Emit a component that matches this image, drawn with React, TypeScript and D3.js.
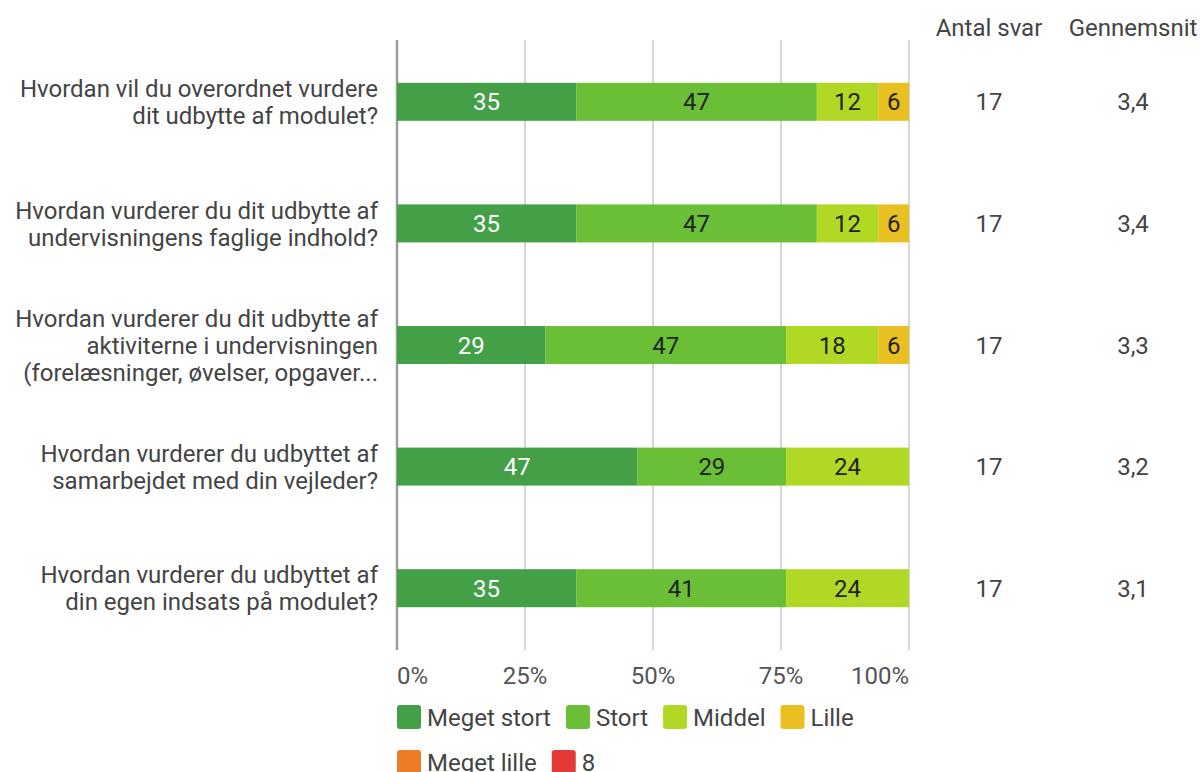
import React from 'react';
import * as d3 from 'd3';

const questions = [
  ['Hvordan vil du overordnet vurdere', 'dit udbytte af modulet?'],
  ['Hvordan vurderer du dit udbytte af', 'undervisningens faglige indhold?'],
  ['Hvordan vurderer du dit udbytte af', 'aktiviterne i undervisningen', '(forelæsninger, øvelser, opgaver...'],
  ['Hvordan vurderer du udbyttet af', 'samarbejdet med din vejleder?'],
  ['Hvordan vurderer du udbyttet af', 'din egen indsats på modulet?'],
];

const series = ['Meget stort', 'Stort', 'Middel', 'Lille', 'Meget lille', '8'];
const colors = ['#43a047', '#6abf36', '#b2d826', '#e9c022', '#ee7b25', '#e53935'];

// percent per answer, one row per question
const values = [
  [35, 47, 12, 6, 0, 0],
  [35, 47, 12, 6, 0, 0],
  [29, 47, 18, 6, 0, 0],
  [47, 29, 24, 0, 0, 0],
  [35, 41, 24, 0, 0, 0],
];

const antal = [17, 17, 17, 17, 17];
const snit = ['3,4', '3,4', '3,3', '3,2', '3,1'];
const ticks = [0, 25, 50, 75, 100];

const W = 1200;
const H = 772;
const FONT = 'Roboto, sans-serif';
const FS = 24;

function textWidth(s: string) {
  const c = document.createElement('canvas').getContext('2d')!;
  c.font = `${FS}px Roboto`;
  return c.measureText(s).width;
}

export default function App() {
  const x = d3.scaleLinear().domain([0, 100]).range([397, 909]);
  const y = d3.scaleBand<number>().domain(d3.range(questions.length)).range([41, 649]).paddingInner(0.6875).paddingOuter(0.34375);

  const rows = values.map(v => {
    const keyed: any = {};
    series.forEach((s, i) => (keyed[s] = v[i]));
    return keyed;
  });
  const stacked = d3.stack().keys(series)(rows);

  // legend layout, wraps like the original
  const legendRows: { label: string; color: string; x: number; row: number }[] = [];
  let lx = 397;
  let row = 0;
  series.forEach((s, i) => {
    const w = 24 + 6 + textWidth(s);
    if (lx + w > 870) {
      row++;
      lx = 397;
    }
    legendRows.push({ label: s, color: colors[i], x: lx, row });
    lx += w + 15;
  });

  return (
    <svg width={W} height={H} style={{ position: 'absolute', left: 0, top: 0 }} fontFamily={FONT} fontSize={FS}>
      <rect width={W} height={H} fill="#fff" />
      {ticks.map(t => (
        <line key={t} x1={x(t)} x2={x(t)} y1={40} y2={650} stroke="#c8c8c8" strokeWidth={1.5} />
      ))}
      <line x1={x(0)} x2={x(0)} y1={40} y2={650} stroke="#9e9e9e" strokeWidth={2.5} />

      {stacked.map((layer, si) =>
        layer.map((d, qi) => {
          const w = x(d[1]) - x(d[0]);
          if (w <= 0) return null;
          const yy = y(qi)!;
          return (
            <g key={`${si}-${qi}`}>
              <rect x={x(d[0])} y={yy} width={w} height={y.bandwidth()} fill={colors[si]} />
              <text
                x={(x(d[0]) + x(d[1])) / 2}
                y={yy + y.bandwidth() / 2}
                dy="0.36em"
                textAnchor="middle"
                fill={si === 0 ? '#fff' : '#222'}
              >
                {values[qi][si]}
              </text>
            </g>
          );
        })
      )}

      {questions.map((lines, qi) => {
        const cy = y(qi)! + y.bandwidth() / 2;
        const lh = 27;
        const start = cy - ((lines.length - 1) * lh) / 2;
        return (
          <text key={qi} textAnchor="end" fill="#444">
            {lines.map((l, li) => (
              <tspan key={li} x={378} y={start + li * lh} dy="0.36em">
                {l}
              </tspan>
            ))}
          </text>
        );
      })}

      <text x={989} y={27} dy="0.36em" textAnchor="middle" fill="#444">Antal svar</text>
      <text x={1133} y={27} dy="0.36em" textAnchor="middle" fill="#444">Gennemsnit</text>
      {antal.map((a, qi) => (
        <g key={qi} fill="#444">
          <text x={989} y={y(qi)! + y.bandwidth() / 2} dy="0.36em" textAnchor="middle">{a}</text>
          <text x={1133} y={y(qi)! + y.bandwidth() / 2} dy="0.36em" textAnchor="middle">{snit[qi]}</text>
        </g>
      ))}

      {ticks.map((t, i) => (
        <text
          key={t}
          x={x(t)}
          y={675}
          dy="0.36em"
          textAnchor={i === 0 ? 'start' : i === ticks.length - 1 ? 'end' : 'middle'}
          fill="#555"
        >
          {t}%
        </text>
      ))}

      {legendRows.map(l => {
        const cy = 717 + l.row * 45;
        return (
          <g key={l.label}>
            <rect x={l.x} y={cy - 12} width={24} height={24} rx={3} fill={l.color} />
            <text x={l.x + 30} y={cy} dy="0.36em" fill="#444">{l.label}</text>
          </g>
        );
      })}
    </svg>
  );
}
